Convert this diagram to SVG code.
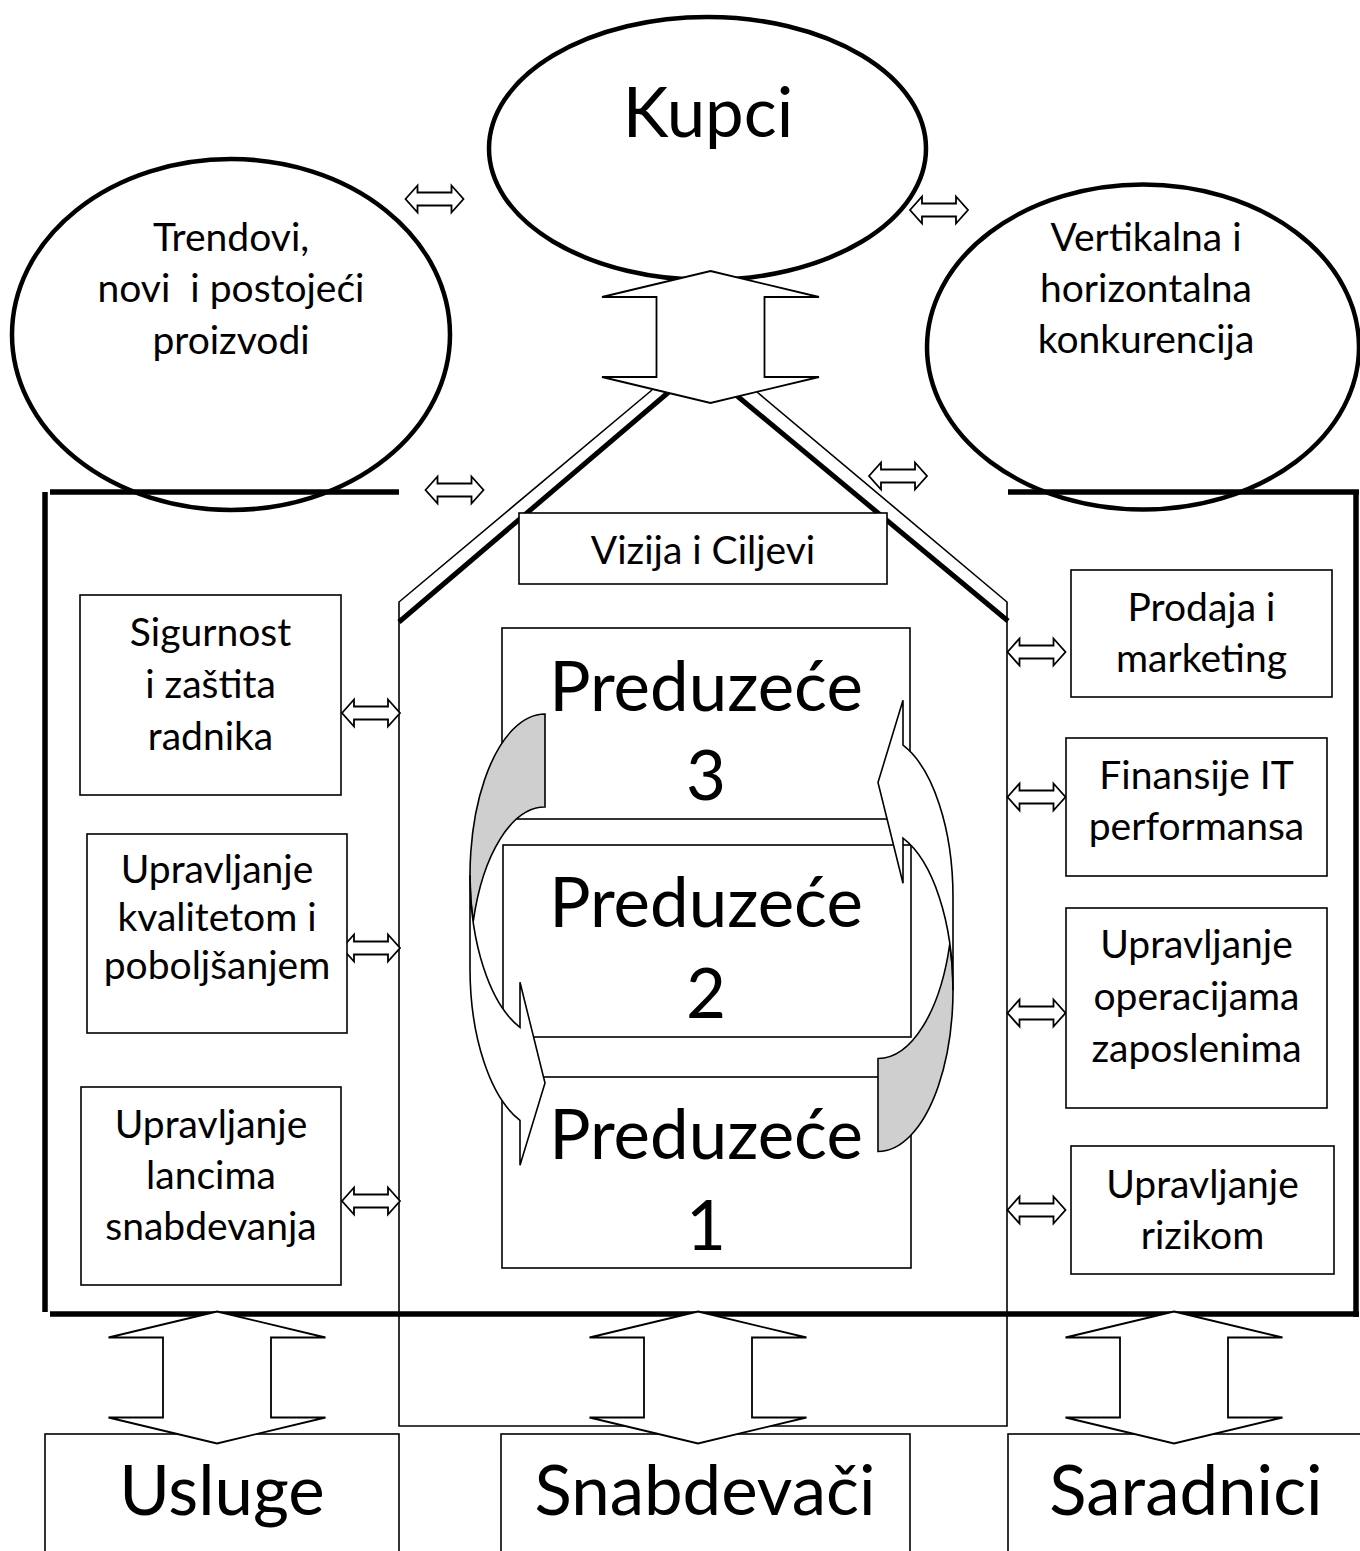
<svg xmlns="http://www.w3.org/2000/svg" xmlns:xlink="http://www.w3.org/1999/xlink" width="1360" height="1551" viewBox="0 0 1360 1551">
<style>
  .ell { fill: #fff; stroke: #000; stroke-width: 4.5; }
  .frame { fill: none; stroke: #000; stroke-width: 5.5; stroke-linecap: butt; }
  .thin { fill: none; stroke: #000; stroke-width: 1.6; }
  .roof { fill: none; stroke: #000; stroke-width: 5; }
  .box { fill: #fff; stroke: #000; stroke-width: 1.6; }
  .arr { fill: #fff; stroke: #000; stroke-width: 1.8; stroke-linejoin: miter; }
  .back { fill: #cfcfcf; stroke: #000; stroke-width: 1.6; }
  .front { fill: #fff; stroke: #000; stroke-width: 1.6; }
  text { font-family: Lato, "Liberation Sans", sans-serif; fill: #000; text-anchor: middle; }
  .s { font-size: 39px; }
  .b { font-size: 69px; }
</style>
<defs>
  <path id="dbl" class="arr" d="M-29 0 L-17 -13.5 L-17 -6.5 L17 -6.5 L17 -13.5 L29 0 L17 13.5 L17 6.5 L-17 6.5 L-17 13.5 Z"/>
  <path id="ud" class="arr" d="M0 -66 L108.5 -40 L54 -40 L54 40 L108.5 40 L0 66 L-108.5 40 L-54 40 L-54 -40 L-108.5 -40 Z"/>
  <g id="curved">
    <path class="back" d="M545 807 A75 161.25 0 0 0 473.19 921.75 A75 161.25 0 0 1 545 714 Z"/>
    <path class="front" d="M470 875.25 A75 161.25 0 0 0 520 1027.28 L520 982.28 L545 1083 L520 1165.28 L520 1120.28 A75 161.25 0 0 1 470 968.25 Z"/>
  </g>
</defs>

<g id="trendovi">
  <ellipse class="ell" cx="231" cy="334.5" rx="219" ry="175.5"/>
  <text class="s" x="231" y="251">Trendovi,</text>
  <text class="s" x="231" y="302" xml:space="preserve">novi  i postojeći</text>
  <text class="s" x="231" y="354">proizvodi</text>
</g>
<g id="kupci">
  <ellipse class="ell" cx="707.5" cy="148.5" rx="218.5" ry="131.5"/>
  <text class="b" x="708" y="137">Kupci</text>
</g>
<g id="konkurencija">
  <ellipse class="ell" cx="1143" cy="347" rx="216" ry="162.5"/>
  <text class="s" x="1146" y="251">Vertikalna i</text>
  <text class="s" x="1146" y="302">horizontalna</text>
  <text class="s" x="1146" y="353">konkurencija</text>
</g>

<g id="okruzenje-okvir">
  <line class="frame" x1="50" y1="492" x2="399" y2="492"/>
  <line class="frame" x1="1008" y1="492" x2="1359" y2="492"/>
  <line class="frame" x1="45" y1="492" x2="45" y2="1312"/>
  <line class="frame" x1="1356" y1="492" x2="1356" y2="1317"/>
  <line class="frame" x1="50" y1="1314" x2="1359" y2="1314"/>
</g>

<g id="preduzece-kuca">
  <polyline class="thin" points="652,390 399,602 399,1426 1007,1426 1007,602 757,392"/>
  <line class="roof" x1="399" y1="622" x2="670" y2="391"/>
  <line class="roof" x1="1008" y1="621" x2="736" y2="395"/>
</g>

<g id="vizija">
  <rect class="box" x="519" y="513" width="368" height="71"/>
  <text class="s" x="703" y="564">Vizija i Ciljevi</text>
</g>

<g id="connectors">
  <use xlink:href="#ud" x="710.5" y="337"/>
  <use xlink:href="#dbl" x="434.5" y="199"/>
  <use xlink:href="#dbl" x="939" y="210"/>
  <use xlink:href="#dbl" x="454.5" y="490"/>
  <use xlink:href="#dbl" x="898" y="476"/>
  <use xlink:href="#dbl" x="371" y="713"/>
  <use xlink:href="#dbl" x="371" y="948"/>
  <use xlink:href="#dbl" x="371" y="1201"/>
  <use xlink:href="#dbl" x="1036.5" y="652"/>
  <use xlink:href="#dbl" x="1036.5" y="797"/>
  <use xlink:href="#dbl" x="1036.5" y="1013"/>
  <use xlink:href="#dbl" x="1036.5" y="1210"/>
</g>

<g id="sigurnost">
  <rect class="box" x="80" y="595" width="261" height="200"/>
  <text class="s" x="210.5" y="646">Sigurnost</text>
  <text class="s" x="210.5" y="698">i zaštita</text>
  <text class="s" x="210.5" y="750">radnika</text>
</g>
<g id="kvalitet">
  <rect class="box" x="87" y="834" width="260" height="199"/>
  <text class="s" x="217" y="883">Upravljanje</text>
  <text class="s" x="217" y="931">kvalitetom i</text>
  <text class="s" x="217" y="979">poboljšanjem</text>
</g>
<g id="lanci">
  <rect class="box" x="81" y="1087" width="260" height="198"/>
  <text class="s" x="211" y="1138">Upravljanje</text>
  <text class="s" x="211" y="1189">lancima</text>
  <text class="s" x="211" y="1240">snabdevanja</text>
</g>
<g id="prodaja">
  <rect class="box" x="1071" y="570" width="261" height="127"/>
  <text class="s" x="1201.5" y="621">Prodaja i</text>
  <text class="s" x="1201.5" y="672">marketing</text>
</g>
<g id="finansije">
  <rect class="box" x="1066" y="738" width="261" height="138"/>
  <text class="s" x="1196.5" y="789">Finansije IT</text>
  <text class="s" x="1196.5" y="840">performansa</text>
</g>
<g id="operacije">
  <rect class="box" x="1066" y="908" width="261" height="200"/>
  <text class="s" x="1196.5" y="958">Upravljanje</text>
  <text class="s" x="1196.5" y="1010">operacijama</text>
  <text class="s" x="1196.5" y="1062">zaposlenima</text>
</g>
<g id="rizik">
  <rect class="box" x="1071" y="1146" width="263" height="128"/>
  <text class="s" x="1202.5" y="1198">Upravljanje</text>
  <text class="s" x="1202.5" y="1249">rizikom</text>
</g>

<g id="preduzece-3">
  <rect class="box" x="502" y="628" width="408" height="191"/>
  <text class="b" x="706" y="711">Preduzeće</text>
  <text class="b" x="706" y="800">3</text>
</g>
<g id="preduzece-2">
  <rect class="box" x="503" y="845" width="408" height="192"/>
  <text class="b" x="706" y="927">Preduzeće</text>
  <text class="b" x="706" y="1018">2</text>
</g>
<g id="preduzece-1">
  <rect class="box" x="502" y="1077" width="409" height="191"/>
  <text class="b" x="706" y="1159">Preduzeće</text>
  <text class="b" x="706" y="1250">1</text>
</g>

<g id="ciklus">
  <use xlink:href="#curved"/>
  <use xlink:href="#curved" transform="rotate(180 711.5 932.75)"/>
</g>

<g id="usluge">
  <rect class="box" x="45" y="1434" width="354" height="130"/>
  <text class="b" x="222" y="1515">Usluge</text>
</g>
<g id="snabdevaci">
  <rect class="box" x="501" y="1434" width="409" height="130"/>
  <text class="b" x="705" y="1515">Snabdevači</text>
</g>
<g id="saradnici">
  <rect class="box" x="1008" y="1434" width="360" height="130"/>
  <text class="b" x="1186" y="1515">Saradnici</text>
</g>

<g id="connectors-bottom">
  <use xlink:href="#ud" x="217" y="1377.5"/>
  <use xlink:href="#ud" x="698" y="1377.5"/>
  <use xlink:href="#ud" x="1174" y="1377.5"/>
</g>
</svg>
